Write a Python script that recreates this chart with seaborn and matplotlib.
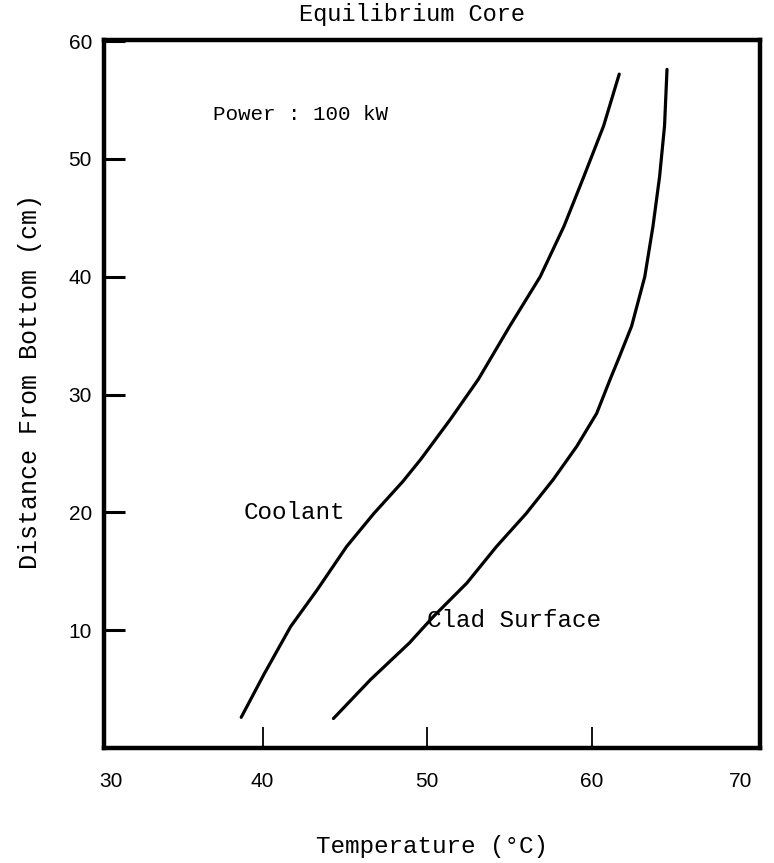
import matplotlib
matplotlib.use('Agg')
import matplotlib.pyplot as plt
import seaborn as sns
import pandas as pd

# Curvas (temperatura em °C, altura em cm)
coolant_temp = [38.7, 40.1, 41.7, 43.3, 45.1, 46.75, 48.5, 49.6, 51.4, 53.1, 55.0, 56.85, 58.3, 59.5, 60.7, 61.65]
coolant_height = [2.6, 6.3, 10.3, 13.4, 17.1, 19.9, 22.6, 24.5, 27.9, 31.3, 35.8, 40.0, 44.3, 48.5, 52.8, 57.2]

clad_temp = [44.3, 46.55, 48.9, 50.4, 52.4, 54.2, 56.0, 57.65, 59.07, 60.28, 61.1, 61.6, 62.4, 63.2, 63.7, 64.1, 64.4, 64.55]
clad_height = [2.5, 5.8, 8.9, 11.2, 14.0, 17.1, 19.9, 22.8, 25.6, 28.4, 31.3, 33.0, 35.8, 40.0, 44.3, 48.5, 52.8, 57.6]

# posições dos rótulos do eixo x (30 e 70 ficam um pouco para dentro, como no original)
x_ticks = [30.8, 40, 50, 60, 69.0]
x_labels = ['30', '40', '50', '60', '70']
y_ticks = [10, 20, 30, 40, 50, 60]

df = pd.concat([
    pd.DataFrame({'temp': coolant_temp, 'height': coolant_height, 'serie': 'Coolant'}),
    pd.DataFrame({'temp': clad_temp, 'height': clad_height, 'serie': 'Clad Surface'}),
])

sns.set_theme(style='white')
mono = 'Liberation Mono'

fig = plt.figure(figsize=(7.74, 8.63), dpi=100)
ax = fig.add_axes([0.135, 0.1333, 0.847, 0.8204])

sns.lineplot(data=df, x='temp', y='height', units='serie', estimator=None, sort=False,
             color='black', linewidth=2.3, ax=ax)

ax.set_xlim(30.4, 70.2)
ax.set_ylim(0, 60.1)
ax.set_xticks(x_ticks, x_labels)
ax.set_yticks(y_ticks)
for lbl in ax.get_xticklabels() + ax.get_yticklabels():
    lbl.set_fontfamily('Liberation Sans')
    lbl.set_fontsize(15)
ax.tick_params(axis='x', bottom=True, direction='in', length=15, width=1.3, pad=17,
               colors='black')
ax.tick_params(axis='y', left=True, direction='in', length=15, width=2.2, pad=9,
               colors='black')
# sem marca de tick nos cantos
for t in [ax.xaxis.get_major_ticks()[0], ax.xaxis.get_major_ticks()[-1]]:
    t.tick1line.set_visible(False)

for sp in ax.spines.values():
    sp.set_visible(True)
    sp.set_color('black')
    sp.set_linewidth(3.2)

ax.set_title('Equilibrium Core', family=mono, fontsize=17, pad=14, x=0.469, color='black')
ax.set_xlabel('Temperature (°C)', family=mono, fontsize=17.5, labelpad=32, color='black')
ax.set_ylabel('Distance From Bottom (cm)', family=mono, fontsize=18, labelpad=17,
              color='black')
ax.yaxis.set_label_coords(-0.095, 0.518)

ax.text(37.0, 53.8, 'Power : 100 kW', family=mono, fontsize=15, va='center', color='black')
ax.text(38.85, 20.0, 'Coolant', family=mono, fontsize=17.5, va='center', color='black')
ax.text(50.0, 10.8, 'Clad Surface', family=mono, fontsize=17.5, va='center', color='black')

fig.savefig('out.png', dpi=100)
